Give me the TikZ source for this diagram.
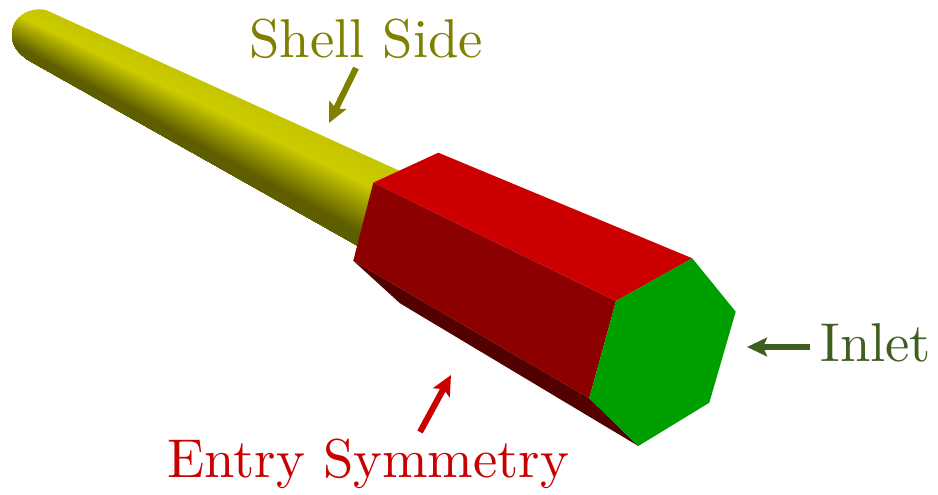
\documentclass[tikz,border=0pt]{standalone}
\usetikzlibrary{arrows.meta}
\definecolor{cylbright}{HTML}{CCCC00}
\definecolor{cyldark}{HTML}{5E5E00}
\definecolor{topred}{HTML}{CC0000}
\definecolor{sidered}{HTML}{8C0000}
\definecolor{lowred}{HTML}{520000}
\definecolor{facegreen}{HTML}{009F00}
\definecolor{olivetext}{HTML}{7F7F00}
\definecolor{redtext}{HTML}{C80000}
\definecolor{greentext}{HTML}{3F5F20}
\newcommand{\biglabel}[1]{\scalebox{4.1}{#1}}
\tikzset{
  lab/.style={anchor=base west,inner sep=0pt},
  callout/.style={line width=4.6pt,-{Stealth[length=15pt,width=14pt,inset=3pt]}},
}
\begin{document}
\begin{tikzpicture}[x=0.75pt,y=-0.75pt]
\useasboundingbox (0,0) rectangle (938,495);
% cylinder
\begin{scope}
  \clip (50,11.4) -- (430,184.5) -- (390,264) -- (28,60)
    .. controls (18,53) and (12,46) .. (12,35)
    .. controls (12,12) and (38,6) .. (50,11.4) -- cycle;
  \foreach \i in {0,...,39}{
    \pgfmathsetmacro{\t}{\i/40}
    \pgfmathsetmacro{\p}{\t<0.3 ? 94+20*\t : 100*max(0,(0.84-\t)/0.54)}
    \pgfmathsetmacro{\lx}{47-17*\t-45}
    \pgfmathsetmacro{\ly}{10+52*\t-20-5*\t}
    \pgfmathsetmacro{\rx}{398-41*\t+35}
    \pgfmathsetmacro{\ry}{170+75*\t+16+3.6*\t}
    \fill[cylbright!\p!cyldark] (\lx,\ly) -- (\rx,\ry) -- (392,275) -- (-20,60) -- cycle;
  }
\end{scope}
% block faces
\fill[lowred] (353.3,260.7) -- (400,303.3) -- (638.3,446) -- (589.3,398.3) -- cycle;
\fill[sidered] (373.3,182.7) -- (353.3,260.7) -- (589.3,398.3) -- (616,301) -- cycle;
\fill[topred] (438.3,152.7) -- (373.3,182.7) -- (616,301) -- (692.3,258.3) -- cycle;
\fill[facegreen] (692.3,258.3) -- (735.7,311.7) -- (709.3,402.7) -- (638.3,446) -- (589.3,398.3) -- (616,301) -- cycle;
% labels
\node[lab,text=olivetext] (shell) at (249,58) {\biglabel{Shell Side}};
\node[lab,text=redtext] (entry) at (167,477) {\biglabel{Entry Symmetry}};
\node[lab,text=greentext] (inlet) at (820,361) {\biglabel{Inlet}};
% callouts
\coordinate (shellfrom) at (356,68);
\coordinate (shellto) at (329,123);
\coordinate (entryfrom) at (420,432);
\coordinate (entryto) at (451,375);
\coordinate (inletfrom) at (810,347);
\coordinate (inletto) at (747,347);
\draw[callout,olivetext] (shellfrom) -- (shellto);
\draw[callout,redtext] (entryfrom) -- (entryto);
\draw[callout,greentext] (inletfrom) -- (inletto);
\end{tikzpicture}
\end{document}
